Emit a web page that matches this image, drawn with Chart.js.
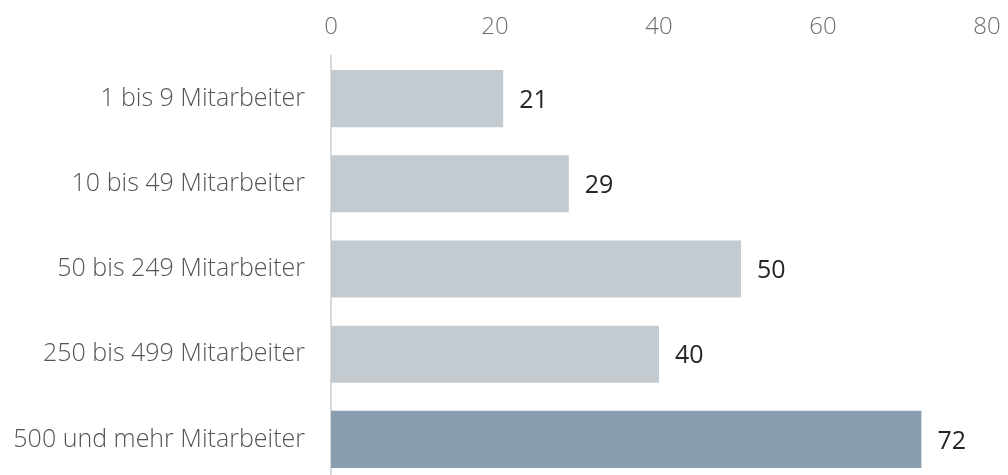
<!DOCTYPE html>
<html>
<head>
<meta charset="utf-8">
<script src="https://cdn.jsdelivr.net/npm/chart.js@4"></script>
<style>
    html, body { margin: 0; padding: 0; overflow: hidden; background: #fff; }
    #sizeChart { display: block; }
</style>
</head>
<body>
<canvas id="sizeChart" width="1008" height="484" style="width:1008px;height:484px"></canvas>
<script>
// Data
const categories = ['1 bis 9 Mitarbeiter', '10 bis 49 Mitarbeiter', '50 bis 249 Mitarbeiter', '250 bis 499 Mitarbeiter', '500 und mehr Mitarbeiter'];
const values = [21, 29, 50, 40, 72];
const barColors = ['#C3CBD1', '#C3CBD1', '#C3CBD1', '#C3CBD1', '#889DB0'];
const xTicks = [0, 20, 40, 60, 80];

// Value labels to the right of each bar
const valueLabels = {
    id: 'valueLabels',
    afterDatasetsDraw(chart) {
        const ctx = chart.ctx;
        const meta = chart.getDatasetMeta(0);
        ctx.save();
        ctx.font = '500 25px "Open Sans"';
        ctx.fillStyle = '#262626';
        ctx.textAlign = 'left';
        ctx.textBaseline = 'middle';
        meta.data.forEach(function(bar, i) {
            ctx.fillText(String(values[i]), bar.x + 16, bar.y + 2);
        });
        ctx.restore();
    }
};

// fixed axis sizes, no extra label padding around the plot
function noPad(scale) {
    scale.paddingTop = 0;
    scale.paddingBottom = 0;
    scale.paddingLeft = 0;
    scale.paddingRight = 0;
}

const ctx = document.getElementById('sizeChart').getContext('2d');
const sizeChart = new Chart(ctx, {
    type: 'bar',
    data: {
        labels: categories,
        datasets: [{
            data: values,
            backgroundColor: barColors,
            borderWidth: 0,
            categoryPercentage: 1,
            barPercentage: 0.67
        }]
    },
    options: {
        indexAxis: 'y', // horizontal bars
        responsive: false,
        devicePixelRatio: 1,
        animation: false,
        layout: { padding: { left: 0, right: 21, top: 0, bottom: 2 } },
        plugins: {
            legend: { display: false },
            tooltip: { enabled: false }
        },
        scales: {
            x: {
                position: 'top',
                min: 0,
                max: 80,
                afterBuildTicks: function(scale) {
                    scale.ticks = xTicks.map(v => ({ value: v }));
                },
                afterFit: function(scale) { scale.height = 56; noPad(scale); },
                grid: { display: false, drawTicks: false },
                border: { display: false },
                ticks: {
                    padding: 14,
                    color: '#6e6e6e',
                    font: { family: 'Open Sans', size: 24, weight: 300 }
                }
            },
            y: {
                afterFit: function(scale) { scale.width = 331; noPad(scale); },
                grid: { display: false, drawTicks: false },
                border: { display: true, color: '#d9d9d9', width: 2 },
                ticks: {
                    padding: 26,
                    color: '#555555',
                    font: { family: 'Open Sans', size: 25, weight: 300 }
                }
            }
        }
    },
    plugins: [valueLabels]
});
</script>
</body>
</html>
